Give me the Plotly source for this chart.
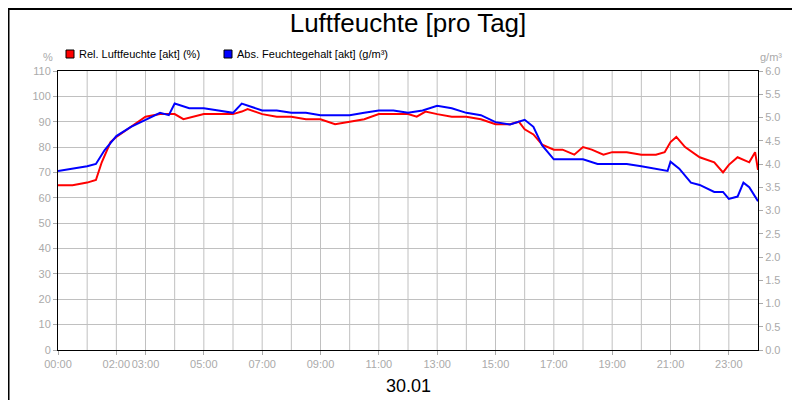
import plotly.graph_objects as go

t_rel = [0,0.5,1,1.3,1.5,1.8,2,2.5,3,3.5,4,4.3,4.7,5,5.5,6,6.3,6.5,7,7.5,8,8.5,9,9.5,10,10.5,11,11.5,12,12.3,12.6,13,13.5,14,14.5,15,15.5,15.8,16,16.3,16.6,17,17.3,17.7,18,18.3,18.7,19,19.5,20,20.5,20.8,21,21.2,21.5,22,22.5,22.8,23,23.3,23.7,23.9,24]
rel = [65,65,66,67,74,82,84,88,92,93,93,91,92,93,93,93,94,95,93,92,92,91,91,89,90,91,93,93,93,92,94,93,92,92,91,89,89,90,87,85,81,79,79,77,80,79,77,78,78,77,77,78,82,84,80,76,74,70,73,76,74,78,71]
t_abs = [0,0.5,1,1.3,1.6,2,2.5,3,3.5,3.8,4,4.5,5,5.5,6,6.3,7,7.5,8,8.5,9,9.5,10,10.5,11,11.5,12,12.5,13,13.5,14,14.5,15,15.5,16,16.3,16.6,17,17.5,18,18.5,19,19.5,20,20.5,20.9,21,21.3,21.7,22,22.5,22.8,23,23.3,23.5,23.7,24]
absf = [3.85,3.9,3.95,4.0,4.3,4.6,4.8,4.95,5.1,5.05,5.3,5.2,5.2,5.15,5.1,5.3,5.15,5.15,5.1,5.1,5.05,5.05,5.05,5.1,5.15,5.15,5.1,5.15,5.25,5.2,5.1,5.05,4.9,4.85,4.95,4.8,4.4,4.1,4.1,4.1,4.0,4.0,4.0,3.95,3.9,3.85,4.05,3.9,3.6,3.55,3.4,3.4,3.25,3.3,3.6,3.5,3.2]
tick_vals = [0,2,3,5,7,9,11,13,15,17,19,21,23]
tick_text = ["00:00","02:00","03:00","05:00","07:00","09:00","11:00","13:00","15:00","17:00","19:00","21:00","23:00"]
legend_names = ["Rel. Luftfeuchte [akt] (%)", "Abs. Feuchtegehalt [akt] (g/m³)"]
legend_colors = ["#ff0000", "#0000ff"]

fig = go.Figure()
fig.add_trace(go.Scatter(x=t_rel, y=rel, mode="lines", line=dict(color=legend_colors[0], width=2),
                         name=legend_names[0]))
fig.add_trace(go.Scatter(x=t_abs, y=absf, mode="lines", line=dict(color=legend_colors[1], width=2),
                         name=legend_names[1], yaxis="y2"))
fig.update_layout(
    width=800, height=400, margin=dict(l=50, r=50, t=63, b=58, autoexpand=False),
    paper_bgcolor="white", plot_bgcolor="white",
    font=dict(family="Liberation Sans, Arial", size=11, color="#aaaaaa"),
    title=dict(text="Luftfeuchte [pro Tag]", x=0.5, y=0.985, yanchor="top",
               font=dict(size=26, color="black")),
    showlegend=False,
    xaxis=dict(range=[0,24], tickvals=tick_vals, ticktext=tick_text, tickangle=0,
               showgrid=False, showline=True, linecolor="black", mirror=True,
               ticks="outside", ticklen=4, tickcolor="#aaaaaa", zeroline=False),
    yaxis=dict(range=[0,110], dtick=10, showgrid=True, gridcolor="#c0c0c0",
               showline=True, linecolor="black", ticks="outside", ticklen=4,
               tickcolor="#aaaaaa", zeroline=False),
    yaxis2=dict(range=[0,6], dtick=0.5, tickformat=".1f", overlaying="y", side="right",
                showgrid=False, showline=True, linecolor="black", ticks="outside",
                ticklen=4, tickcolor="#aaaaaa", zeroline=False),
)
for h in range(1, 24):
    fig.add_shape(type="line", x0=h, x1=h, y0=0, y1=110, xref="x", yref="y",
                  line=dict(color="#c0c0c0", width=1), layer="below")
fig.add_shape(type="rect", xref="paper", yref="paper", x0=-0.0707, x1=1.0700,
              y0=-0.205, y1=1.222, line=dict(color="black", width=2))
# legend as squares + text
lx = [58/700 - 50/700, 216/700 - 50/700]
for i in range(2):
    fig.add_shape(type="rect", xref="paper", yref="paper",
                  x0=lx[i], x1=lx[i] + 8/700, y0=1 + 13/279, y1=1 + 21/279,
                  fillcolor=legend_colors[i], line=dict(color="black", width=1))
    fig.add_annotation(text=legend_names[i], xref="paper", yref="paper",
                       x=lx[i] + 11/700, y=1 + 17/279, xanchor="left", yanchor="middle",
                       showarrow=False, font=dict(size=11, color="black"))
fig.add_annotation(text="30.01", xref="paper", yref="paper", x=0.5, y=-0.13,
                   yanchor="middle", showarrow=False, font=dict(size=18, color="black"))
fig.add_annotation(text="%", xref="paper", yref="paper", x=-0.005, y=1.02,
                   xanchor="right", yanchor="bottom", showarrow=False)
fig.add_annotation(text="g/m³", xref="paper", yref="paper", x=1.0, y=1.02,
                   xanchor="left", yanchor="bottom", showarrow=False)
fig.write_html("out.html")
